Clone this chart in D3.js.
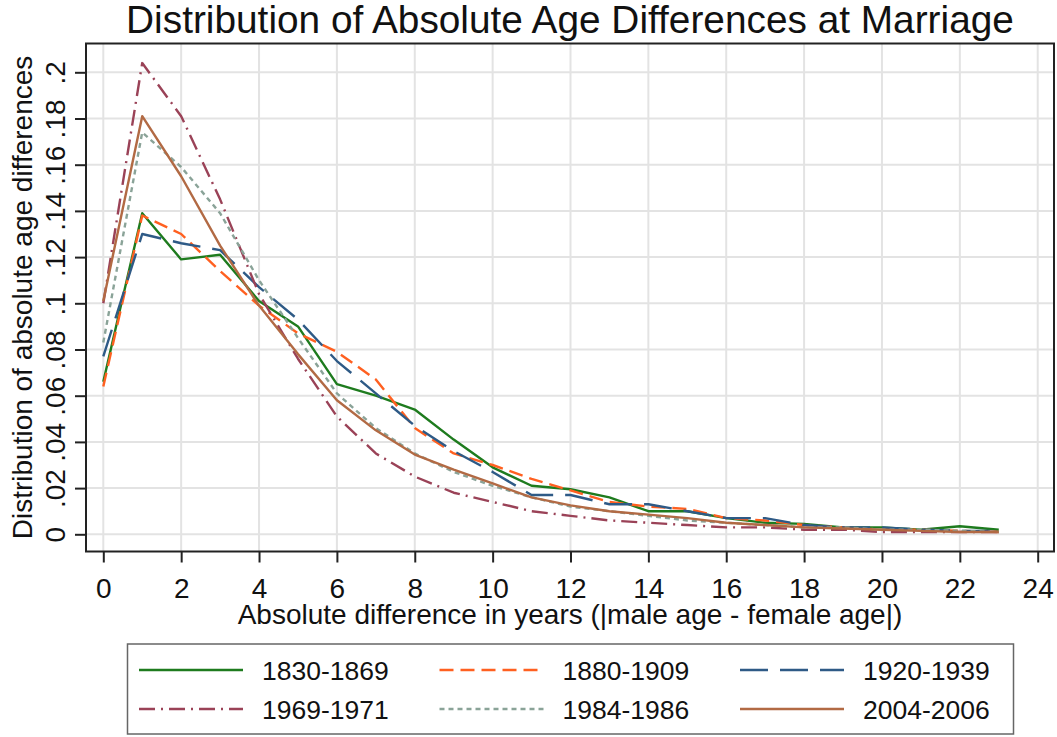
<!DOCTYPE html>
<html>
<head>
<meta charset="utf-8">
<script src="https://cdn.jsdelivr.net/npm/d3@7"></script>
<style>
  body { margin: 0; background: #fff; }
  svg { font-family: "Liberation Sans", Arial, sans-serif; }
</style>
</head>
<body>
<div id="chart"></div>
<script>
// years of absolute age difference
const years = d3.range(0, 24);

const s1830 = [0.066, 0.139, 0.119, 0.121, 0.101, 0.090, 0.065, 0.060, 0.054, 0.041, 0.029, 0.021, 0.0195, 0.016, 0.010, 0.010, 0.007, 0.005, 0.0045, 0.003, 0.003, 0.002, 0.0035, 0.002];
const s1880 = [0.064, 0.138, 0.130, 0.114, 0.099, 0.087, 0.079, 0.067, 0.046, 0.035, 0.030, 0.024, 0.019, 0.014, 0.012, 0.011, 0.007, 0.006, 0.004, 0.003, 0.002, 0.002, 0.0015, 0.001];
const s1920 = [0.077, 0.130, 0.126, 0.123, 0.107, 0.093, 0.075, 0.061, 0.047, 0.036, 0.027, 0.017, 0.017, 0.013, 0.013, 0.010, 0.007, 0.007, 0.004, 0.003, 0.003, 0.002, 0.0015, 0.0015];
const s1969 = [0.100, 0.204, 0.181, 0.145, 0.104, 0.076, 0.051, 0.035, 0.025, 0.018, 0.014, 0.010, 0.008, 0.006, 0.005, 0.004, 0.003, 0.003, 0.002, 0.002, 0.001, 0.001, 0.001, 0.001];
const s1984 = [0.083, 0.174, 0.159, 0.139, 0.110, 0.085, 0.061, 0.046, 0.035, 0.027, 0.021, 0.016, 0.012, 0.010, 0.008, 0.006, 0.005, 0.004, 0.003, 0.003, 0.002, 0.002, 0.0015, 0.001];
const s2004 = [0.101, 0.181, 0.155, 0.125, 0.099, 0.078, 0.058, 0.045, 0.0345, 0.028, 0.022, 0.016, 0.0125, 0.010, 0.0085, 0.007, 0.005, 0.004, 0.003, 0.0025, 0.002, 0.0015, 0.001, 0.001];

const seriesNames = ["1830-1869", "1880-1909", "1920-1939", "1969-1971", "1984-1986", "2004-2006"];
const seriesValues = [s1830, s1880, s1920, s1969, s1984, s2004];

const xTicks = d3.range(0, 25, 2);
const yTicks = [0, 0.02, 0.04, 0.06, 0.08, 0.1, 0.12, 0.14, 0.16, 0.18, 0.2];
const yTickLabels = ["0", ".02", ".04", ".06", ".08", ".1", ".12", ".14", ".16", ".18", ".2"];

// line styles per series, in the same order as seriesNames
const colors = ["#1e7b1e", "#ff6020", "#2e5a86", "#9a4257", "#8aa398", "#b26a44"];
const dashes = [null, "14,7", "28,12", "16,6,2,6", "5,4", null];

const W = 1057, H = 737;
const frame = { left: 86, right: 1054, top: 43.5, bottom: 551.5 };

const svg = d3.select("#chart").append("svg")
    .attr("width", W)
    .attr("height", H);

const x = d3.scaleLinear().domain([0, 24]).range([103.3, 1037.7]);
const y = d3.scaleLinear().domain([0, 0.2]).range([534.3, 72.3]);

// grid
svg.append("g").selectAll("line.v")
    .data(xTicks)
    .enter().append("line")
    .attr("x1", d => x(d)).attr("x2", d => x(d))
    .attr("y1", frame.top).attr("y2", frame.bottom)
    .attr("stroke", "#e3e3e3").attr("stroke-width", 2);

svg.append("g").selectAll("line.h")
    .data(yTicks)
    .enter().append("line")
    .attr("x1", frame.left).attr("x2", frame.right)
    .attr("y1", d => y(d)).attr("y2", d => y(d))
    .attr("stroke", "#e3e3e3").attr("stroke-width", 2);

// series
const line = d3.line()
    .x((d, i) => x(years[i]))
    .y(d => y(d));

svg.append("g").selectAll("path")
    .data(seriesValues)
    .enter().append("path")
    .attr("d", d => line(d))
    .attr("fill", "none")
    .attr("stroke", (d, i) => colors[i])
    .attr("stroke-width", 2.4)
    .attr("stroke-dasharray", (d, i) => dashes[i])
    .attr("stroke-linejoin", "round");

// frame
svg.append("rect")
    .attr("x", frame.left).attr("y", frame.top)
    .attr("width", frame.right - frame.left)
    .attr("height", frame.bottom - frame.top)
    .attr("fill", "none")
    .attr("stroke", "#222")
    .attr("stroke-width", 2);

// x axis
const xAxis = svg.append("g")
    .attr("transform", `translate(0,${frame.bottom})`)
    .call(d3.axisBottom(x).tickValues(xTicks).tickSize(11).tickFormat(d3.format("d")));
xAxis.select(".domain").remove();
xAxis.selectAll(".tick line").attr("stroke", "#222").attr("stroke-width", 2);
xAxis.selectAll(".tick text")
    .attr("y", 46).attr("dy", 0)
    .attr("fill", "#111")
    .style("font-size", "28px")
    .style("font-family", "'Liberation Sans', Arial, sans-serif");

// y axis
const yAxis = svg.append("g")
    .attr("transform", `translate(${frame.left},0)`)
    .call(d3.axisLeft(y).tickValues(yTicks).tickSize(11).tickFormat((d, i) => yTickLabels[i]));
yAxis.select(".domain").remove();
yAxis.selectAll(".tick line").attr("stroke", "#222").attr("stroke-width", 2);
yAxis.selectAll(".tick text")
    .attr("x", 0).attr("dy", 0)
    .attr("transform", "translate(-21,0) rotate(-90)")
    .attr("text-anchor", "middle")
    .attr("fill", "#111")
    .style("font-size", "28px")
    .style("font-family", "'Liberation Sans', Arial, sans-serif");

// titles
svg.append("text")
    .attr("x", (frame.left + frame.right) / 2).attr("y", 33)
    .attr("text-anchor", "middle")
    .attr("fill", "#111")
    .style("font-size", "38.8px")
    .text("Distribution of Absolute Age Differences at Marriage");

svg.append("text")
    .attr("x", (frame.left + frame.right) / 2).attr("y", 624)
    .attr("text-anchor", "middle")
    .attr("fill", "#111")
    .style("font-size", "28px")
    .text("Absolute difference in years (|male age - female age|)");

svg.append("text")
    .attr("transform", `translate(32,${(frame.top + frame.bottom) / 2}) rotate(-90)`)
    .attr("text-anchor", "middle")
    .attr("fill", "#111")
    .style("font-size", "28px")
    .text("Distribution of absolute age differences");

// legend
const legend = svg.append("g");
legend.append("rect")
    .attr("x", 127.5).attr("y", 644)
    .attr("width", 886).attr("height", 90)
    .attr("fill", "#fff")
    .attr("stroke", "#666")
    .attr("stroke-width", 1.5);

const items = legend.selectAll("g.item")
    .data(seriesNames)
    .enter().append("g")
    .attr("transform", (d, i) => `translate(${139 + (i % 3) * 300.5},${i < 3 ? 670 : 709})`);

items.append("line")
    .attr("x1", 0).attr("x2", 104)
    .attr("y1", 0).attr("y2", 0)
    .attr("stroke", (d, i) => colors[i])
    .attr("stroke-width", 2.4)
    .attr("stroke-dasharray", (d, i) => dashes[i]);

items.append("text")
    .attr("x", 123).attr("y", 9.5)
    .attr("fill", "#111")
    .style("font-size", "26.5px")
    .text(d => d);
</script>
</body>
</html>
